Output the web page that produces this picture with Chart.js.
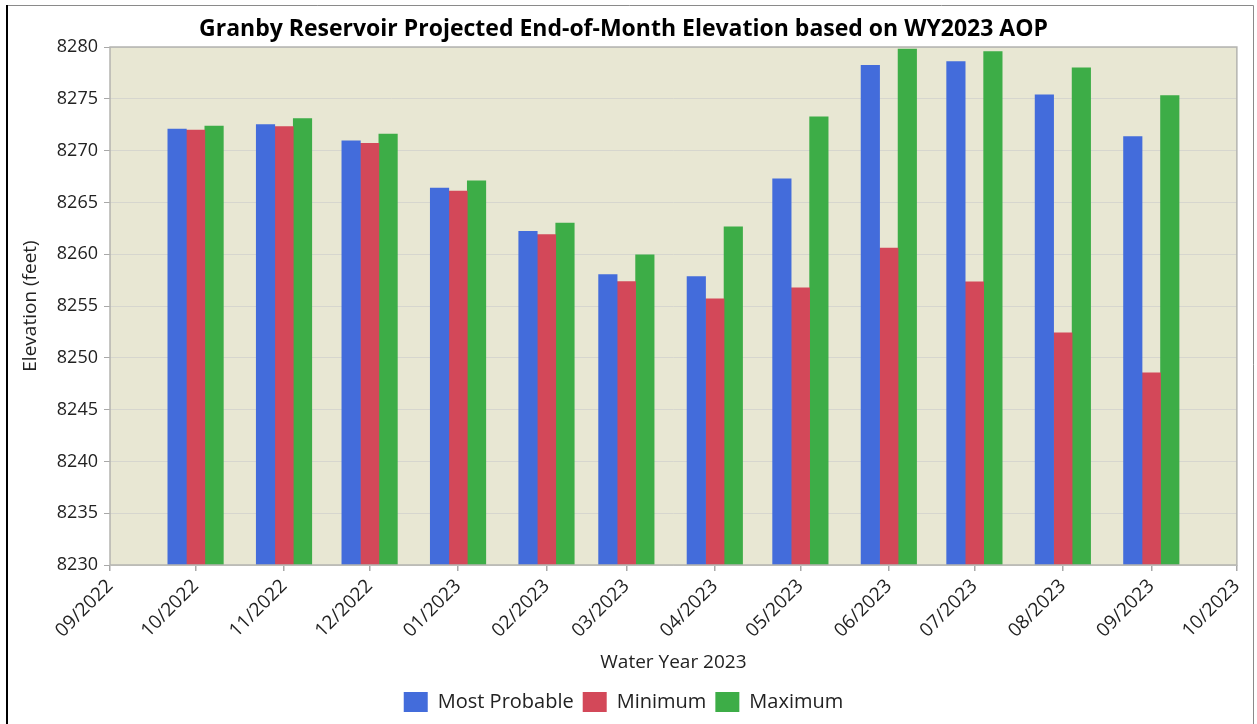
<!DOCTYPE html>
<html>
<head>
<meta charset="utf-8">
<title>Granby Reservoir Projected End-of-Month Elevation</title>
<script src="https://cdn.jsdelivr.net/npm/chart.js@4.4.1/dist/chart.umd.min.js"></script>
<style>
  html, body { margin: 0; padding: 0; background: #fff; }
  #wrap { position: relative; width: 1257px; height: 724px; }
</style>
</head>
<body>
<div id="wrap"><canvas id="chartElev"></canvas></div>
<script>
// Axis months (time axis, ticks on the first of each month)
const MONTHS = ["09/2022", "10/2022", "11/2022", "12/2022", "01/2023", "02/2023", "03/2023",
                "04/2023", "05/2023", "06/2023", "07/2023", "08/2023", "09/2023", "10/2023"];
// End-of-month projections, 10/2022 .. 09/2023
const BAR_MONTHS = ["10/2022", "11/2022", "12/2022", "01/2023", "02/2023", "03/2023",
                    "04/2023", "05/2023", "06/2023", "07/2023", "08/2023", "09/2023"];
const MOST_PROBABLE = [8272.07, 8272.52, 8270.94, 8266.39, 8262.21, 8258.03,
                       8257.84, 8267.28, 8278.23, 8278.59, 8275.38, 8271.36];
const MINIMUM       = [8271.97, 8272.32, 8270.69, 8266.10, 8261.89, 8257.36,
                       8255.69, 8256.75, 8260.60, 8257.33, 8252.42, 8248.56];
const MAXIMUM       = [8272.36, 8273.09, 8271.59, 8267.09, 8263.01, 8259.93,
                       8262.63, 8273.26, 8279.80, 8279.55, 8277.98, 8275.31];
const Y_MIN = 8230;
const Y_MAX = 8280;
const Y_STEP = 5;

const FONT = "'Open Sans', 'Noto Sans', sans-serif";
const BAR_W = 18.5;

// days since the first axis month, so month spacing follows the calendar
function monthDay(label) {
  const [m, y] = label.split("/").map(Number);
  return (Date.UTC(y, m - 1, 1) - Date.UTC(2022, 8, 1)) / 86400000;
}
const MONTH_DAYS = MONTHS.map(monthDay);

function series(values) {
  return values.map((v, i) => ({ x: monthDay(BAR_MONTHS[i]), y: v }));
}

function barSet(label, values, color) {
  return {
    label,
    data: series(values),
    backgroundColor: color,
    borderWidth: 0,
    barThickness: BAR_W,
  };
}

// plot background, plot border and the outer frame
const plotFrame = {
  id: "plotFrame",
  beforeDraw(chart) {
    const { ctx, chartArea: a } = chart;
    ctx.save();
    ctx.fillStyle = "#e8e7d3";
    ctx.fillRect(a.left, a.top, a.right - a.left, a.bottom - a.top);
    ctx.restore();
  },
  afterDraw(chart) {
    const { ctx, chartArea: a } = chart;
    ctx.save();
    ctx.strokeStyle = "#b4b4b0";
    ctx.lineWidth = 1.5;
    ctx.strokeRect(a.left, a.top, a.right - a.left, a.bottom - a.top);

    ctx.strokeStyle = "#8a8a8a";
    ctx.lineWidth = 1;
    ctx.beginPath();
    ctx.moveTo(6, 5.5);
    ctx.lineTo(1253.5, 5.5);
    ctx.lineTo(1253.5, 724);
    ctx.stroke();
    ctx.fillStyle = "#000";
    ctx.fillRect(6, 5, 2, 719);
    ctx.restore();
  },
};

new Chart(document.getElementById("chartElev"), {
  type: "bar",
  data: {
    datasets: [
      barSet("Most Probable", MOST_PROBABLE, "#436cdb"),
      barSet("Minimum", MINIMUM, "#d34859"),
      barSet("Maximum", MAXIMUM, "#3dad47"),
    ],
  },
  options: {
    responsive: true,
    maintainAspectRatio: false,
    animation: false,
    layout: { padding: { left: 8, right: 18, top: 0, bottom: 2 } },
    plugins: {
      title: {
        display: true,
        text: "Granby Reservoir Projected End-of-Month Elevation based on WY2023 AOP",
        color: "#000",
        font: { family: FONT, size: 23, weight: "bold" },
        padding: { top: 16, bottom: 3.4 },
      },
      legend: {
        position: "bottom",
        labels: {
          color: "#222",
          font: { family: FONT, size: 20 },
          boxWidth: 24,
          boxHeight: 20,
          padding: 9,
        },
      },
      tooltip: { enabled: false },
    },
    scales: {
      x: {
        type: "linear",
        min: MONTH_DAYS[0],
        max: MONTH_DAYS[MONTH_DAYS.length - 1],
        offset: false,
        afterBuildTicks(scale) {
          scale.ticks = MONTH_DAYS.map(v => ({ value: v }));
        },
        afterFit(scale) { scale.height = 118; },
        ticks: {
          autoSkip: false,
          minRotation: 45,
          maxRotation: 45,
          padding: 4,
          color: "#222",
          font: { family: FONT, size: 19 },
          callback: (value, i) => MONTHS[i],
        },
        grid: {
          offset: false,
          drawOnChartArea: false,
          tickLength: 6,
          tickColor: "#a8a8a8",
          lineWidth: 1.5,
        },
        border: { display: false },
        title: {
          display: true,
          text: "Water Year 2023",
          color: "#222",
          font: { family: FONT, size: 19 },
          padding: { top: 0, bottom: 9 },
        },
      },
      y: {
        min: Y_MIN,
        max: Y_MAX,
        afterFit(scale) { scale.width = 102; },
        ticks: {
          stepSize: Y_STEP,
          padding: 6,
          color: "#222",
          font: { family: FONT, size: 18 },
          callback: value => String(value),
        },
        grid: {
          color: "#d6d6ce",
          tickColor: "#a8a8a8",
          tickLength: 6,
          lineWidth: 1,
        },
        border: { display: false },
        title: {
          display: true,
          text: "Elevation (feet)",
          color: "#222",
          font: { family: FONT, size: 19 },
          padding: { top: 11, bottom: 0 },
        },
      },
    },
  },
  plugins: [plotFrame],
});
</script>
</body>
</html>
